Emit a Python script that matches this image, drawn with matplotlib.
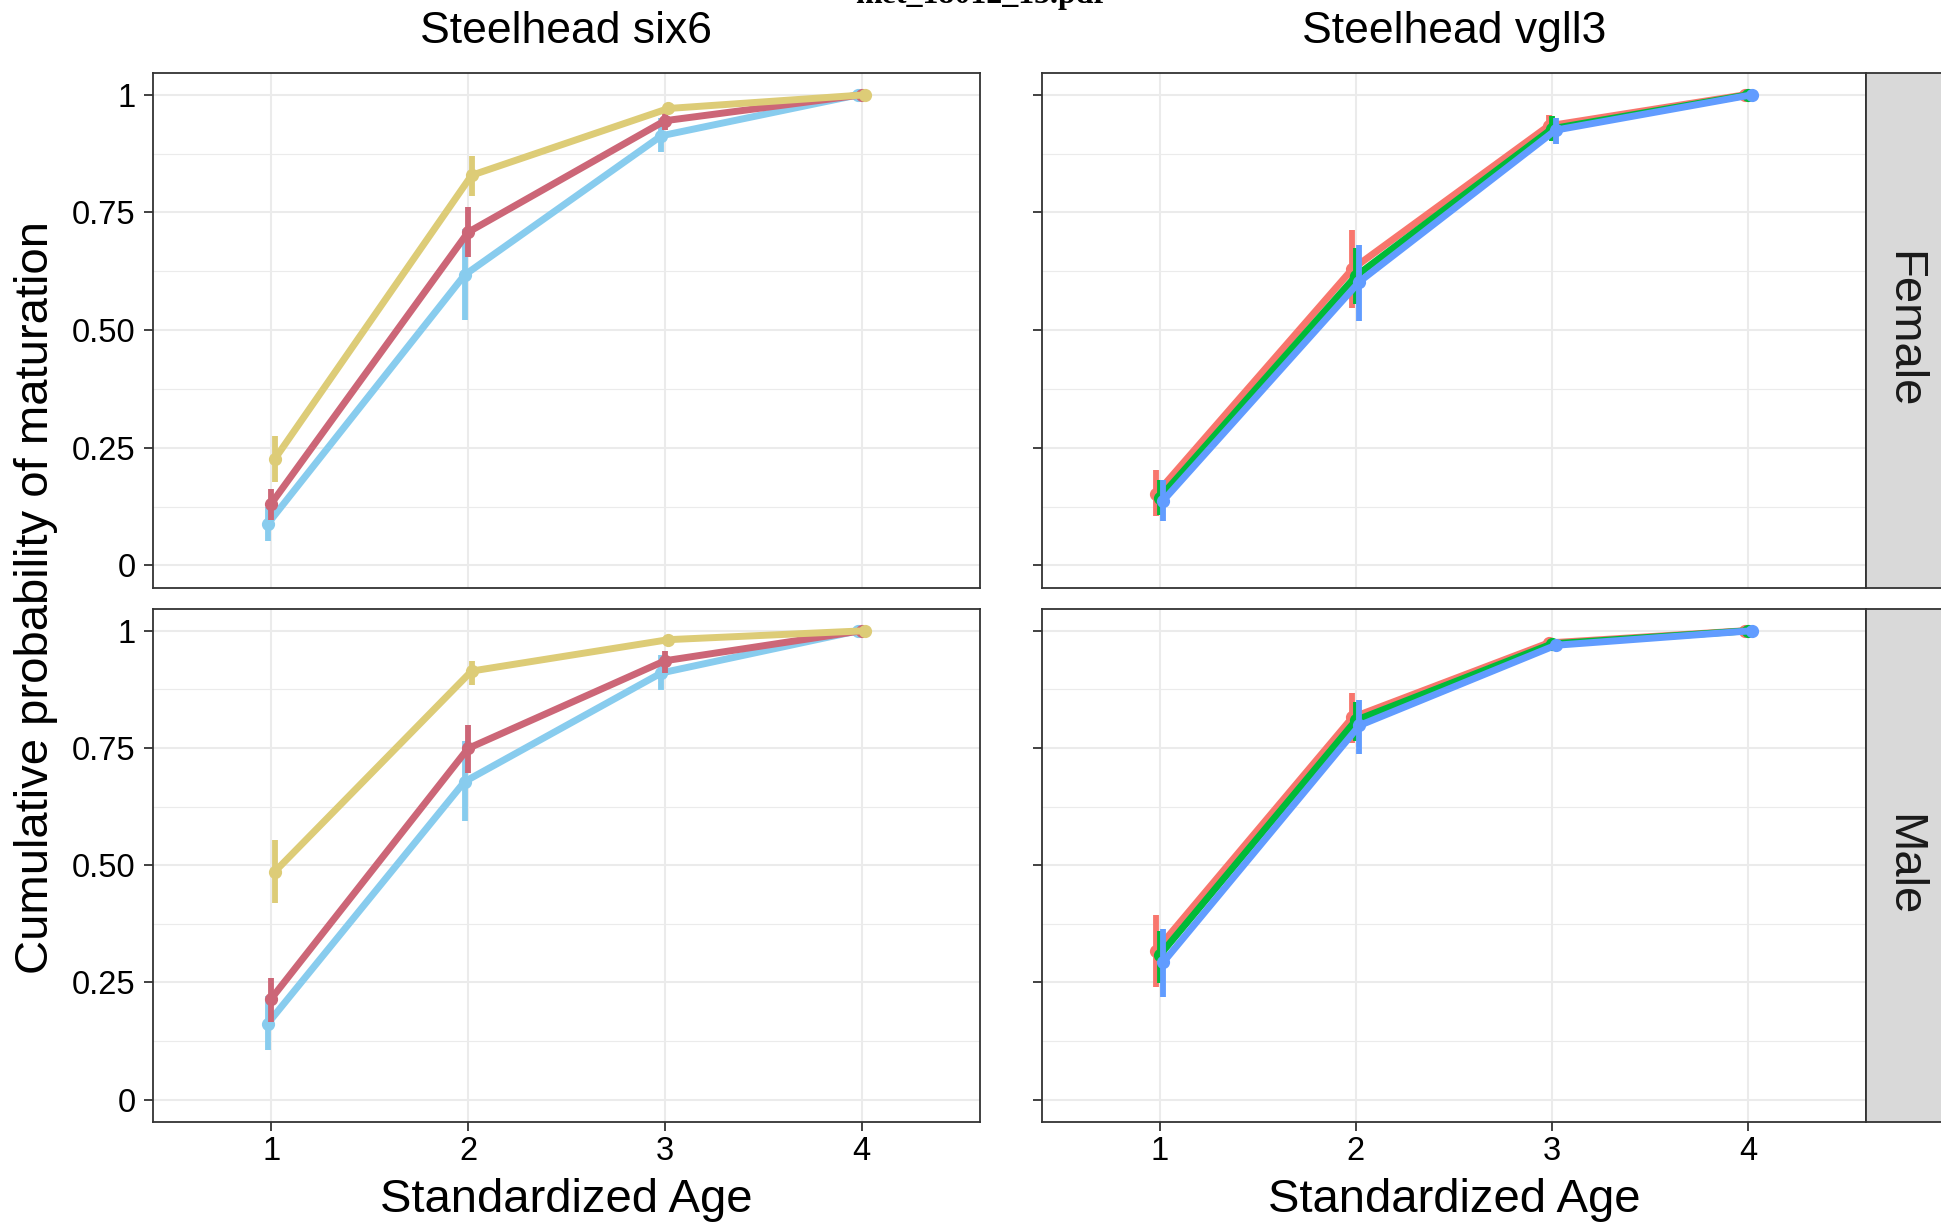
import matplotlib
matplotlib.use("Agg")
import matplotlib.pyplot as plt
from matplotlib.patches import Rectangle

plt.rcParams['font.family'] = ['Liberation Sans', 'DejaVu Sans']

ages = [1, 2, 3, 4]
age_labels = ['1', '2', '3', '4']
y_ticks = [0, 0.25, 0.5, 0.75, 1]
y_tick_labels = ['0', '0.25', '0.50', '0.75', '1']
sexes = ['Female', 'Male']
genes = ['Steelhead six6', 'Steelhead vgll3']

# six6 groups, drawn left to right: light blue, rose, sand
six6_colors = ['#88CCEE', '#CC6677', '#DDCC77']
six6_female_mean = [[0.088, 0.617, 0.913, 1.0], [0.131, 0.708, 0.945, 1.0], [0.226, 0.829, 0.971, 1.0]]
six6_female_lo = [[0.053, 0.521, 0.878, 1.0], [0.096, 0.656, 0.925, 1.0], [0.178, 0.785, 0.962, 1.0]]
six6_female_hi = [[0.125, 0.715, 0.951, 1.0], [0.163, 0.762, 0.962, 1.0], [0.275, 0.871, 0.979, 1.0]]
six6_male_mean = [[0.162, 0.678, 0.910, 1.0], [0.215, 0.749, 0.936, 1.0], [0.486, 0.914, 0.981, 1.0]]
six6_male_lo = [[0.106, 0.594, 0.874, 1.0], [0.166, 0.697, 0.910, 1.0], [0.419, 0.884, 0.975, 1.0]]
six6_male_hi = [[0.221, 0.764, 0.948, 1.0], [0.260, 0.798, 0.957, 1.0], [0.553, 0.936, 0.986, 1.0]]

# vgll3 groups: red, green, blue
vgll3_colors = ['#F8766D', '#00BA38', '#619CFF']
vgll3_female_mean = [[0.152, 0.630, 0.934, 1.0], [0.144, 0.615, 0.928, 1.0], [0.138, 0.603, 0.925, 1.0]]
vgll3_female_lo = [[0.105, 0.547, 0.906, 1.0], [0.107, 0.555, 0.902, 1.0], [0.094, 0.520, 0.895, 1.0]]
vgll3_female_hi = [[0.202, 0.712, 0.958, 1.0], [0.181, 0.674, 0.954, 1.0], [0.181, 0.680, 0.951, 1.0]]
vgll3_male_mean = [[0.318, 0.815, 0.974, 1.0], [0.308, 0.809, 0.972, 1.0], [0.293, 0.798, 0.969, 1.0]]
vgll3_male_lo = [[0.241, 0.761, 0.968, 1.0], [0.248, 0.764, 0.967, 1.0], [0.218, 0.738, 0.963, 1.0]]
vgll3_male_hi = [[0.394, 0.868, 0.980, 1.0], [0.360, 0.847, 0.977, 1.0], [0.364, 0.852, 0.975, 1.0]]

panels = {
    (0, 0): (six6_colors, six6_female_mean, six6_female_lo, six6_female_hi),
    (1, 0): (six6_colors, six6_male_mean, six6_male_lo, six6_male_hi),
    (0, 1): (vgll3_colors, vgll3_female_mean, vgll3_female_lo, vgll3_female_hi),
    (1, 1): (vgll3_colors, vgll3_male_mean, vgll3_male_lo, vgll3_male_hi),
}

W, H = 1941, 1227
fig = plt.figure(figsize=(W / 100, H / 100), dpi=100)

col_x = [(153, 980), (1042, 1866)]
row_y = [(72.7, 587.6), (608.7, 1121.7)]
dodge = 0.018
dark = '#333333'

for (r, c), (colors, means, los, his) in panels.items():
    x0, x1 = col_x[c]
    y0, y1 = row_y[r]
    ax = fig.add_axes([x0 / W, (H - y1) / H, (x1 - x0) / W, (y1 - y0) / H])
    ax.set_xlim(0.4, 4.6)
    ax.set_ylim(-0.047, 1.047)
    ax.set_yticks(y_ticks)
    ax.set_yticks([0.125, 0.375, 0.625, 0.875], minor=True)
    ax.set_xticks(ages)
    ax.grid(True, which='major', color='#EBEBEB', lw=1.5)
    ax.grid(True, which='minor', axis='y', color='#EBEBEB', lw=0.8)
    ax.set_axisbelow(True)
    for s in ax.spines.values():
        s.set_color(dark)
        s.set_linewidth(1.3)
    ax.tick_params(axis='both', which='major', length=6.5, width=1.3, color=dark,
                   labelsize=23.5, labelcolor='black')
    ax.tick_params(axis='y', which='minor', length=0)
    ax.tick_params(axis='y', pad=6)
    ax.tick_params(axis='x', pad=4)
    if c == 0:
        ax.set_yticklabels(y_tick_labels)
    else:
        ax.set_yticklabels([])
    if r == 0:
        ax.tick_params(axis='x', length=0, labelbottom=False)
    else:
        ax.set_xticklabels(age_labels)

    for g in range(3):
        xs = [a + (g - 1) * dodge for a in ages]
        ax.vlines(xs[:3], los[g][:3], his[g][:3], color=colors[g], lw=4.2, zorder=3 + g)
        ax.plot(xs, means[g], color=colors[g], lw=5, marker='o', ms=8.5,
                solid_capstyle='butt', zorder=3 + g)

    if r == 0:
        fig.text((x0 + x1) / 2 / W, (H - 43.3) / H, genes[c], ha='center',
                 va='baseline', fontsize=32)
    else:
        fig.text((x0 + x1) / 2 / W, (H - 1212) / H, 'Standardized Age', ha='center',
                 va='baseline', fontsize=34)

    if c == 1:
        fig.patches.append(Rectangle((1866 / W, (H - y1) / H), 100 / W, (y1 - y0) / H,
                                     transform=fig.transFigure, facecolor='#D9D9D9',
                                     edgecolor=dark, lw=1.3, zorder=1))
        fig.text(1903 / W, (H - (y0 + y1) / 2) / H, sexes[r], rotation=-90,
                 ha='center', va='center', fontsize=34, color='#1A1A1A')

fig.text(36 / W, (H - 597) / H, 'Cumulative probability of maturation', rotation=90,
         ha='center', va='center', fontsize=34)

# cropped header of the source page
fig.text(980 / W, (H - 3.5) / H, 'met_18012_15.pdf', ha='center', va='baseline',
         fontsize=23, family='Liberation Serif', fontweight='bold')

fig.savefig('out.png', dpi=100)
